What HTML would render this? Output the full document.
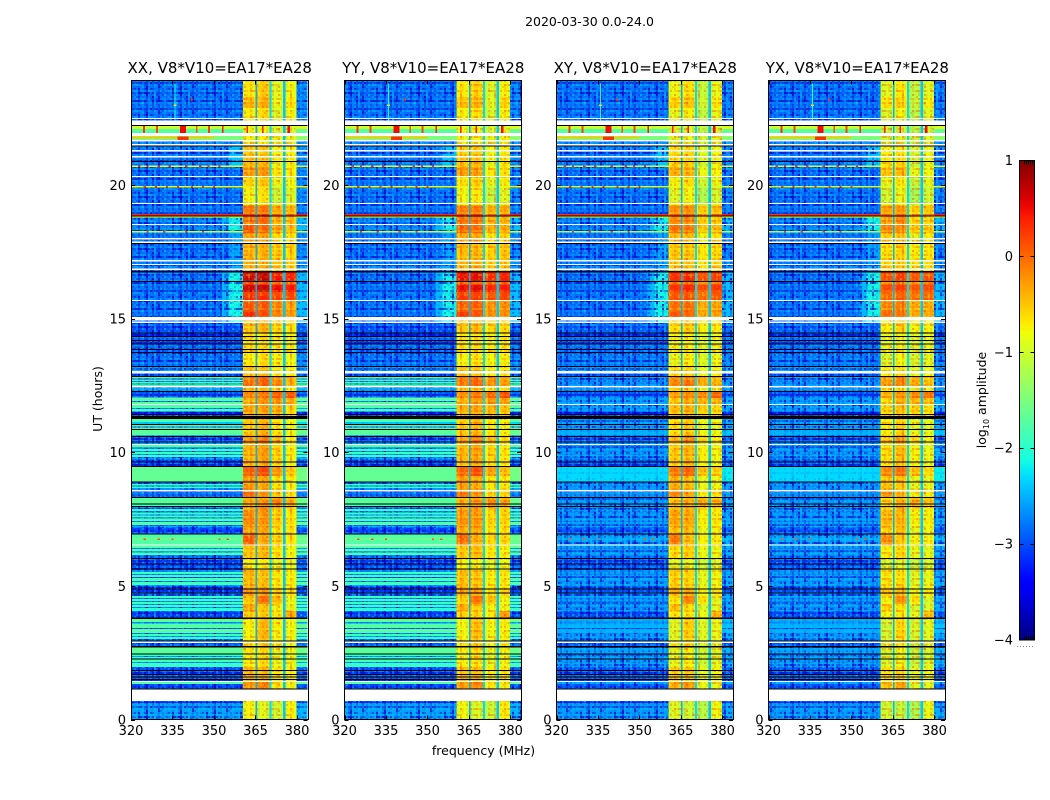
<!DOCTYPE html>
<html>
<head>
<meta charset="utf-8">
<title>2020-03-30 0.0-24.0</title>
<style>
html,body{margin:0;padding:0;background:#fff;width:1050px;height:800px;overflow:hidden}
svg{display:block}
text{font-family:"DejaVu Sans","Liberation Sans",sans-serif;fill:#000}
</style>
</head>
<body>
<svg id="fig" xmlns="http://www.w3.org/2000/svg" width="1050" height="800" viewBox="0 0 1050 800">
<defs id="defs">
<linearGradient id="jetGrad" x1="0" y1="1" x2="0" y2="0"></linearGradient>
</defs>
<text x="589.5" y="26" font-size="12.5" text-anchor="middle">2020-03-30 0.0-24.0</text>
<text x="483.5" y="755" font-size="12.5" text-anchor="middle">frequency (MHz)</text>
<text x="0" y="0" font-size="12.5" text-anchor="middle" transform="translate(102,399) rotate(-90)">UT (hours)</text>
<text x="0" y="0" font-size="12.5" text-anchor="middle" transform="translate(986,400) rotate(-90)">log<tspan font-size="8" dy="3">10</tspan><tspan dy="-3"> amplitude</tspan></text>
<g id="panels"></g>
<g id="cbar"></g>
</svg>
<script>
// Panels
const panelTitles = ['XX, V8*V10=EA17*EA28','YY, V8*V10=EA17*EA28','XY, V8*V10=EA17*EA28','YX, V8*V10=EA17*EA28'];
const panelUsesCross = [false,false,true,true];
const bandShiftXX = [0.05,0.05,0,0];
const bandShiftYY = [0,0,-0.05,0.05];
const bandShiftXY = [-0.12,-0.08,-0.18,-0.05];
const bandShiftYX = [-0.22,-0.15,-0.22,-0.1];
const panelHotScale = [1,0.85,0.7,0.6];

// Axis ticks
const xTickLabels = [320,335,350,365,380];
const yTickLabels = [0,5,10,15,20];
const cbarTickLabels = [1,0,-1,-2,-3,-4];

// Off-band rows: UT start of each row, log10 amplitude for parallel and cross hands
const offStartUT = [
23.91,22.25,22.10,21.95,21.69,21.54,21.26,20.73,20.68,19.97,
19.91,18.92,18.86,18.79,18.28,18.23,17.20,16.75,14.84,14.45,
14.32,14.17,14.03,13.83,13.72,13.19,12.95,12.82,12.76,12.72,
12.67,12.63,12.57,12.54,12.42,12.26,12.05,11.92,11.88,11.77,
11.66,11.62,11.53,11.25,11.13,11.02,10.97,10.93,10.83,10.63,
10.37,10.27,10.18,10.12,10.05,10.01,9.94,9.90,9.82,9.73,
9.45,8.87,8.81,8.76,8.72,8.66,8.53,8.29,8.05,7.95,
7.88,7.80,7.75,7.67,7.63,7.56,7.52,7.43,7.39,7.28,
7.20,6.92,6.79,6.72,6.42,6.38,6.29,6.25,6.16,6.01,
5.61,5.52,5.45,5.41,5.33,5.30,5.18,5.15,5.03,4.96,
4.72,4.62,4.55,4.51,4.43,4.40,4.32,4.29,4.21,4.17,
4.06,3.77,3.64,3.59,3.42,3.39,3.24,3.20,3.13,3.09,
3.01,2.87,2.69,2.43,2.38,2.34,2.24,2.15,2.11,1.96,
1.44,1.33,0.67,0.62];
const offParallel = [
-2.85,-1.0,-1.75,-1.5,-2.8,-2.75,-2.85,-0.8,-2.85,-0.85,
-2.85,0.35,-0.9,-2.75,-1.0,-2.85,-2.8,-2.85,-3.0,-3.2,
-2.9,-3.1,-2.9,-3.1,-2.85,-2.6,-3.0,-1.8,-2.8,-1.8,
-2.8,-1.8,-2.8,-1.7,-2.6,-3.0,-1.7,-2.7,-1.7,-1.8,
-2.7,-1.8,-3.2,-1.8,-2.4,-1.8,-2.8,-1.8,-1.7,-3.0,
-2.6,-1.8,-2.8,-1.9,-2.8,-1.9,-2.8,-1.9,-2.6,-3.1,
-1.65,-2.7,-1.9,-2.8,-1.9,-2.7,-2.9,-1.7,-1.8,-2.8,
-1.9,-2.8,-1.9,-2.8,-1.9,-2.8,-1.8,-2.8,-1.75,-2.6,
-3.1,-1.75,-1.6,-1.75,-2.8,-1.8,-2.8,-1.8,-2.8,-3.05,
-2.8,-1.9,-2.8,-1.9,-2.8,-1.85,-2.8,-1.85,-2.7,-3.15,
-2.7,-1.9,-2.8,-1.9,-2.8,-1.9,-2.8,-1.9,-2.8,-2.0,
-3.05,-1.7,-2.8,-1.75,-2.7,-1.7,-2.8,-1.9,-2.8,-1.9,
-2.7,-3.0,-1.7,-1.9,-2.8,-1.9,-1.85,-2.8,-1.9,-3.0,
-1.7,-3.05,-3.3,-2.6];
const offCross = [
-2.85,-1.0,-1.75,-1.5,-2.8,-2.75,-2.85,-0.95,-2.85,-1.0,
-2.85,0.3,-0.9,-2.75,-1.2,-2.85,-2.8,-2.85,-2.9,-3.1,
-2.85,-3.0,-2.85,-3.0,-2.8,-2.6,-2.95,-2.65,-2.8,-2.65,
-2.8,-2.65,-2.8,-2.6,-2.7,-3.0,-2.6,-2.7,-2.6,-2.6,
-2.7,-2.6,-3.2,-2.6,-2.65,-2.6,-2.8,-2.6,-2.5,-2.95,
-2.65,-2.6,-2.8,-2.6,-2.8,-2.6,-2.8,-2.6,-2.7,-3.0,
-2.3,-2.7,-2.6,-2.8,-2.6,-2.7,-2.7,-2.65,-2.6,-2.8,
-2.6,-2.8,-2.6,-2.8,-2.6,-2.8,-2.6,-2.8,-2.6,-2.65,
-3.0,-2.6,-2.5,-2.6,-2.8,-2.6,-2.8,-2.6,-2.8,-3.0,
-2.8,-2.6,-2.8,-2.6,-2.8,-2.6,-2.8,-2.6,-2.7,-3.0,
-2.7,-2.6,-2.8,-2.6,-2.8,-2.6,-2.8,-2.6,-2.8,-2.65,
-3.0,-2.5,-2.8,-2.5,-2.7,-2.5,-2.8,-2.6,-2.8,-2.6,
-2.7,-3.0,-2.6,-2.6,-2.8,-2.6,-2.6,-2.8,-2.6,-2.95,
-2.6,-3.0,-3.3,-2.65];

// In-band rows: UT start of each row, level of each of the four sub-bands
const bandStartUT = [
23.91,23.30,22.89,22.25,21.95,21.44,20.86,20.68,20.34,19.93,
19.25,18.92,18.82,18.54,18.21,17.80,16.75,16.37,16.26,16.00,
15.85,15.66,15.25,15.06,14.46,13.72,13.19,12.82,12.44,12.26,
12.03,11.77,11.25,10.65,10.39,9.45,9.11,8.53,8.29,7.95,
7.84,7.20,6.92,6.51,6.01,5.61,4.96,4.62,4.32,4.06,
3.76,2.99,2.71,1.96,1.44,0.69];
const band1 = [
-.75,-.5,-.8,-.9,-.85,-.55,-.5,-.3,-.7,-.85,
-.15,.3,-.1,.05,-.4,-.45,.6,.2,.6,.2,
.3,.05,.3,-.55,-.7,-.8,-.5,-.1,-.55,-.2,
-.45,-.4,-.55,-.3,-.45,0,-.3,-.1,-.4,-.35,
-.25,-.4,0,-.55,-.8,-.5,-.3,-.6,-.4,-.6,
-.85,-.7,-.8,-.45,-.3,-.85];
const band2 = [
-.6,-.45,-.7,-.9,-.85,-.55,-.5,-.3,-.6,-.75,
-.15,.3,-.05,-.05,-.4,-.45,.65,.2,.65,.2,
.3,.05,.1,-.45,-.7,-.7,-.5,0,-.55,-.1,
-.3,-.35,-.45,-.1,-.35,.15,-.4,-.3,-.3,-.2,
-.3,-.4,-.4,-.5,-.8,-.55,-.3,-.1,-.6,-.6,
-.5,-.6,-.7,-.45,-.2,-1];
const band3 = [
-.95,-.9,-1,-1,-.9,-.8,-.9,-.7,-.9,-1.1,
-.4,.1,-.4,-.35,-.7,-.55,.45,.1,.5,.1,
.2,-.2,-.2,-.6,-.75,-.8,-.7,-.2,-.7,.05,
-.25,-.4,-.7,-.4,-.6,-.3,-.7,-.6,-.2,-.4,
-.6,-.7,-.6,-.7,-.9,-.75,-.6,-.5,-.8,-.7,
-.8,-.8,-.9,-.7,-.7,-1.05];
const band4 = [
-.85,-.7,-.85,-1,-.9,-.8,-.8,-.75,-.85,-1,
-.45,.1,-.5,-.45,-.7,-.6,.4,.1,.45,.15,
.15,-.3,-.3,-.7,-.8,-.85,-.75,-.4,-.8,.1,
-.4,-.6,-.85,-.7,-.8,-.55,-.8,-.7,-.4,-.6,
-.7,-.75,-.7,-.85,-.9,-.8,-.65,-.9,-.9,-.35,
-.85,-.85,-.9,-.75,-.85,-.8];

// Sub-band limits and gaps (MHz)
const subbandLow = [360.4,365.6,370.8,375.8];
const subbandHigh = [365.0,370.0,375.0,379.9];
const gapLevel = [-2.5,-2.3,-2.4];
const subbandProfile = [-0.08,0.04,0.05,-0.06];
const offChannelMHz = 2.525;

// Speckle table for the noisy areas
const channelRipple = [0.14,-0.18,0.05,0.22,-0.1,-0.24,0.17,0.02,-0.15,0.26,-0.06,-0.2,0.1,-0.03,0.19,-0.13,0.08];
const rowRipple = [-0.12,0.09,-0.2,0.16,0.03,-0.08,0.21,-0.17,0.06,-0.03,0.12,-0.22,0.18];

// Shoulder next to the band: UT start, level (null = none)
const shoulderStartUT = [23.91,21.54,20.76,19.25,18.82,18.21,17.80,16.75,16.26,15.06];
const shoulderLevel = [null,-2.4,null,-2.5,-2.1,-2.4,-2.6,-2.3,-2.1,null];

// Flagged time ranges (UT hours)
const whiteStart = [22.51,22.42,21.95,21.69,21.54,21.31,21.09,20.34,19.33,18.54,18.02,17.89,17.20,17.05,16.88,15.70,15.06,14.90,13.04,12.48,11.81,10.31,8.59,6.55,2.92,1.44,1.12];
const whiteEnd = [22.47,22.25,21.84,21.63,21.48,21.26,21.03,20.30,19.29,18.51,17.96,17.83,17.14,17.01,16.82,15.66,14.93,14.84,12.95,12.42,11.77,10.27,8.53,6.51,2.87,1.40,0.69];
const blackStart = [22.25,21.48,20.90,18.86,17.83,16.78,16.41,14.48,14.35,14.20,14.07,13.87,13.75,13.23,12.86,12.29,11.43,11.36,11.06,10.87,10.61,10.40,9.66,9.49,8.91,8.33,8.08,7.99,6.96,6.04,5.84,5.65,4.90,4.75,3.81,2.96,2.75,2.47,2.28,1.85,1.70,1.61,1.52,1.16];
const blackEnd = [22.21,21.44,20.86,18.82,17.80,16.72,16.37,14.45,14.32,14.17,14.03,13.83,13.72,13.19,12.82,12.26,11.40,11.25,11.02,10.83,10.57,10.37,9.62,9.45,8.87,8.29,8.05,7.95,6.92,6.01,5.80,5.61,4.87,4.72,3.77,2.92,2.69,2.43,2.24,1.82,1.67,1.57,1.48,1.12];

// Narrow interference marks
const rfiFreq = [335,338.8,338.8,324.7,329.4,343.8,348.2,353.2,362,367.6,377,335.9,335.9,342,326,334,340,345,352,325,333,342,350,326,332,340,346,325,330,335,352,355,323,330,348,329,337,346];
const rfiSpan = [30,4,2,0.6,0.6,0.6,0.6,0.6,0.6,0.6,1,0.5,1,0.6,0.8,0.8,0.8,0.8,0.8,0.8,0.8,0.8,0.8,0.8,0.8,0.8,0.8,0.8,0.8,0.8,0.8,0.8,0.8,0.8,0.8,0.8,0.8,0.8];
const rfiUT = [21.78,21.75,22.05,22.08,22.08,22.08,22.08,22.08,22.08,22.08,22.08,23.1,22.98,23.2,20.7,20.7,20.7,20.7,20.7,19.94,19.94,19.94,19.94,18.25,18.25,18.25,18.25,6.75,6.75,6.75,6.75,6.75,20.7,20.7,20.7,19.94,19.94,19.94];
const rfiDur = [0.08,0.12,0.3,0.25,0.25,0.25,0.25,0.25,0.25,0.25,0.25,1.4,0.05,0.1,0.05,0.05,0.05,0.05,0.05,0.05,0.05,0.05,0.05,0.05,0.05,0.05,0.05,0.05,0.05,0.05,0.05,0.05,0.05,0.05,0.05,0.05,0.05,0.05];
const rfiLevel = [-0.5,0.3,0.5,0.3,0.2,0.1,0.2,0.4,0.4,0.4,0.5,-2.1,-0.6,0.3,0.3,0.3,0.3,0.3,0.3,0.2,0.2,0.2,0.2,0.2,0.2,0.2,0.2,0.1,0.1,0.1,0.1,0.1,0.3,0.3,0.3,0.3,0.3,0.3];

const NS = 'http://www.w3.org/2000/svg';
const panelLeft = [131,344.5,556.5,768.5];
const PANEL_W = 176.5, PANEL_TOP = 80.5, PANEL_BOTTOM = 719.5;
const FREQ_MIN = 320, FREQ_MAX = 383.8, UT_MAX = 23.91;
const SHOULDER_F0 = FREQ_MIN + 13 * offChannelMHz;
const bandShifts = [bandShiftXX,bandShiftYY,bandShiftXY,bandShiftYX];
const bandLevels = [band1,band2,band3,band4];

function xScale(p, f){ return panelLeft[p] + (f - FREQ_MIN) / (FREQ_MAX - FREQ_MIN) * PANEL_W; }
function yScale(u){ return PANEL_BOTTOM - u / UT_MAX * (PANEL_BOTTOM - PANEL_TOP); }
function lerp(pts, t){
  for (let i = 1; i < pts.length; i++) {
    if (t <= pts[i][0]) {
      const a = pts[i-1], b = pts[i];
      return a[1] + (b[1]-a[1]) * (t-a[0]) / (b[0]-a[0]);
    }
  }
  return pts[pts.length-1][1];
}
const jetR = [[0,0],[0.35,0],[0.66,1],[0.89,1],[1,0.5]];
const jetG = [[0,0],[0.125,0],[0.375,1],[0.64,1],[0.91,0],[1,0]];
const jetB = [[0,0.5],[0.11,1],[0.34,1],[0.65,0],[1,0]];
function jet(v){
  const t = Math.min(1, Math.max(0, (v + 4) / 5));
  const c = a => Math.round(255 * lerp(a, t));
  return 'rgb(' + c(jetR) + ',' + c(jetG) + ',' + c(jetB) + ')';
}
function shoulderAt(u){
  let s = null;
  for (let i = 0; i < shoulderStartUT.length; i++) {
    if (u <= shoulderStartUT[i]) s = shoulderLevel[i];
  }
  return s;
}

// Speckle tiles (a translucent overlay on noisy cells only)
function makeSpeckle(id, hiColor, loColor, hiGain, loGain){
  const CELL = 2;
  const pat = document.createElementNS(NS, 'pattern');
  pat.setAttribute('id', id);
  pat.setAttribute('patternUnits', 'userSpaceOnUse');
  pat.setAttribute('width', channelRipple.length * CELL);
  pat.setAttribute('height', rowRipple.length * CELL);
  for (let i = 0; i < channelRipple.length; i++) {
    for (let j = 0; j < rowRipple.length; j++) {
      const v = channelRipple[i] + rowRipple[j] + channelRipple[(i * j + j * 2) % channelRipple.length];
      const el = document.createElementNS(NS, 'rect');
      el.setAttribute('x', i * CELL);
      el.setAttribute('y', j * CELL);
      el.setAttribute('width', CELL);
      el.setAttribute('height', CELL);
      el.setAttribute('shape-rendering', 'crispEdges');
      el.setAttribute('fill', v > 0 ? hiColor : loColor);
      el.setAttribute('fill-opacity', Math.min(0.8, Math.abs(v) * (v > 0 ? hiGain : loGain)).toFixed(2));
      pat.appendChild(el);
    }
  }
  document.getElementById('defs').appendChild(pat);
}
makeSpeckle('speckleBlue', '#00c8ff', '#0000c8', 1.2, 2.0);
makeSpeckle('speckleSoft', '#00d8ff', '#0040e0', 0.4, 0.6);
makeSpeckle('speckleBand', '#ff3000', '#e8ff20', 0.8, 0.8);

function addCell(parent, f0, f1, u0, u1, fill, p){
  const x0 = xScale(p, f0), x1 = xScale(p, f1), y0 = yScale(u0), y1 = yScale(u1);
  const el = document.createElementNS(NS, 'rect');
  
  
  el.setAttribute('x', x0.toFixed(2));
  el.setAttribute('y', y0.toFixed(2));
  el.setAttribute('width', (x1 - x0).toFixed(2));
  el.setAttribute('height', (y1 - y0).toFixed(2));
  el.setAttribute('fill', fill);
  el.setAttribute('shape-rendering', 'crispEdges');
  parent.appendChild(el);
}
function addFlag(parent, u0, u1, fill, p){
  const el = document.createElementNS(NS, 'rect');
  
  
  el.setAttribute('x', panelLeft[p]);
  el.setAttribute('y', yScale(u0).toFixed(2));
  el.setAttribute('width', PANEL_W);
  el.setAttribute('height', (yScale(u1) - yScale(u0)).toFixed(2));
  el.setAttribute('fill', fill);
  el.setAttribute('shape-rendering', 'crispEdges');
  parent.appendChild(el);
}
function addLine(parent, x1, y1, x2, y2, stroke){
  const el = document.createElementNS(NS, 'line');
  
  
  el.setAttribute('x1', x1);
  el.setAttribute('y1', y1);
  el.setAttribute('x2', x2);
  el.setAttribute('y2', y2);
  el.setAttribute('stroke', stroke);
  el.setAttribute('stroke-width', '1');
  el.setAttribute('shape-rendering', 'crispEdges');
  parent.appendChild(el);
}
function addLabel(parent, x, y, str, anchor){
  const el = document.createElementNS(NS, 'text');
  
  
  el.setAttribute('x', x);
  el.setAttribute('y', y);
  el.setAttribute('font-size', '13');
  el.setAttribute('text-anchor', anchor);
  el.textContent = str;
  parent.appendChild(el);
}
function drawPanel(p){
  const root = document.getElementById('panels');
  const g = document.createElementNS(NS, 'g');
  
  
  root.appendChild(g);
  const offLevels = panelUsesCross[p] ? offCross : offParallel;

  // off-band rows
  for (let r = 0; r < offStartUT.length; r++) {
    const u0 = offStartUT[r];
    const u1 = r + 1 < offStartUT.length ? offStartUT[r+1] : 0;
    const base = offLevels[r];
    const noisy = base < -2.2;
    const sh = shoulderAt((u0 + u1) / 2);
    addCell(g, FREQ_MIN, SHOULDER_F0, u0, u1, jet(base), p);
    let near = base, mid = base, right = base + 0.1;
    if (sh !== null && noisy) {
      mid = Math.max(base, sh - 0.4);
      near = Math.max(base, sh);
      right = Math.max(right, sh - 0.35);
    }
    addCell(g, SHOULDER_F0, SHOULDER_F0 + offChannelMHz, u0, u1, jet(mid), p);
    addCell(g, SHOULDER_F0 + offChannelMHz, subbandLow[0], u0, u1, jet(near), p);
    addCell(g, subbandHigh[3], FREQ_MAX, u0, u1, jet(right), p);
    if (noisy) {
      const tex = base > -2.55 ? 'url(#speckleSoft)' : 'url(#speckleBlue)';
      addCell(g, FREQ_MIN, subbandLow[0], u0, u1, tex, p);
      addCell(g, subbandHigh[3], FREQ_MAX, u0, u1, tex, p);
    }
  }

  // in-band channels
  for (let r = 0; r < bandStartUT.length; r++) {
    const u0 = bandStartUT[r];
    const u1 = r + 1 < bandStartUT.length ? bandStartUT[r+1] : 0;
    for (let s = 0; s < 4; s++) {
      let lvl = bandLevels[s][r];
      if (lvl > 0) lvl *= panelHotScale[p];
      lvl += bandShifts[p][s];
      const w = (subbandHigh[s] - subbandLow[s]) / subbandProfile.length;
      for (let c = 0; c < subbandProfile.length; c++) {
        const f0 = subbandLow[s] + c * w;
        addCell(g, f0, f0 + w, u0, u1, jet(lvl + subbandProfile[c]), p);
      }
      addCell(g, subbandLow[s], subbandHigh[s], u0, u1, 'url(#speckleBand)', p);
      if (s < 3) addCell(g, subbandHigh[s], subbandLow[s+1], u0, u1, jet(gapLevel[s]), p);
    }
  }

  // interference
  for (let i = 0; i < rfiFreq.length; i++) {
    addCell(g, rfiFreq[i] - rfiSpan[i] / 2, rfiFreq[i] + rfiSpan[i] / 2, rfiUT[i] + rfiDur[i] / 2, rfiUT[i] - rfiDur[i] / 2, jet(rfiLevel[i]), p);
  }

  // flagged ranges
  for (let i = 0; i < whiteStart.length; i++) addFlag(g, whiteStart[i], whiteEnd[i], '#ffffff', p);
  for (let i = 0; i < blackStart.length; i++) addFlag(g, blackStart[i], blackEnd[i], '#000000', p);

  // ticks and labels
  const left = panelLeft[p], right = left + PANEL_W;
  xTickLabels.forEach(function(t){
    const x = Math.round(xScale(p, t)) + 0.5;
    addLine(g, x, PANEL_BOTTOM, x, PANEL_BOTTOM - 4, '#000');
    addLine(g, x, PANEL_TOP, x, PANEL_TOP + 4, '#000');
    addLabel(g, xScale(p, t), 735, String(t), 'middle');
  });
  yTickLabels.forEach(function(t){
    const y = Math.round(yScale(t)) + 0.5;
    addLine(g, left, y, left + 4, y, '#000');
    addLine(g, right, y, right - 4, y, '#000');
    addLabel(g, left - 5, yScale(t) + 5, String(t), 'end');
  });

  // frame
  const fr = document.createElementNS(NS, 'rect');
  
  
  fr.setAttribute('x', Math.floor(left) + 0.5);
  fr.setAttribute('y', PANEL_TOP);
  fr.setAttribute('width', Math.round(PANEL_W));
  fr.setAttribute('height', PANEL_BOTTOM - PANEL_TOP);
  fr.setAttribute('fill', 'none');
  fr.setAttribute('stroke', '#000');
  fr.setAttribute('stroke-width', '1');
  fr.setAttribute('shape-rendering', 'crispEdges');
  g.appendChild(fr);

  // title
  const tt = document.createElementNS(NS, 'text');
  
  
  tt.setAttribute('x', left + PANEL_W / 2 + 0.5);
  tt.setAttribute('y', 73);
  tt.setAttribute('font-size', '15');
  tt.setAttribute('text-anchor', 'middle');
  tt.textContent = panelTitles[p];
  g.appendChild(tt);
}
panelTitles.forEach(function(_, p){ drawPanel(p); });

// Colorbar
(function(){
  const grad = document.getElementById('jetGrad');
  for (let i = 0; i <= 50; i++) {
    const s = document.createElementNS(NS, 'stop');
    s.setAttribute('offset', (i * 2) + '%');
    s.setAttribute('stop-color', jet(-4 + i / 10));
    grad.appendChild(s);
  }
  const cb = document.getElementById('cbar');
  const CB_L = 1019.5, CB_R = 1034.5, CB_T = 160.5, CB_B = 640;
  const cbY = v => CB_B - (v + 4) / 5 * (CB_B - CB_T);
  const bar = document.createElementNS(NS, 'rect');
  
  
  bar.setAttribute('x', CB_L);
  bar.setAttribute('y', CB_T);
  bar.setAttribute('width', CB_R - CB_L);
  bar.setAttribute('height', CB_B - CB_T);
  bar.setAttribute('fill', 'url(#jetGrad)');
  bar.setAttribute('stroke', '#000');
  bar.setAttribute('stroke-width', '1');
  bar.setAttribute('shape-rendering', 'crispEdges');
  cb.appendChild(bar);
  cbarTickLabels.forEach(function(t){
    const y = Math.round(cbY(t)) + 0.5;
    if (t > -4 && t < 1) {
      addLine(cb, CB_L, y, CB_L + 4, y, '#000');
      addLine(cb, CB_R, y, CB_R - 4, y, '#000');
    }
    addLabel(cb, 1013, cbY(t) + 4.5, t < 0 ? '\u2212' + Math.abs(t) : String(t), 'end');
  });
  for (let i = 0; i < 5; i++) {
    const x = 1024.5 + i * 2;
    addLine(cb, x, CB_T, x, CB_T + 4, '#000');
    addLine(cb, x, CB_B, x, CB_B - 4, '#000');
  }
  const dots = document.createElementNS(NS, 'line');
  
  
  dots.setAttribute('x1', '1017');
  dots.setAttribute('y1', '646.5');
  dots.setAttribute('x2', '1035');
  dots.setAttribute('y2', '646.5');
  dots.setAttribute('stroke', '#888');
  dots.setAttribute('stroke-width', '1');
  dots.setAttribute('stroke-dasharray', '1 2');
  cb.appendChild(dots);
})();
</script>
</body>
</html>
